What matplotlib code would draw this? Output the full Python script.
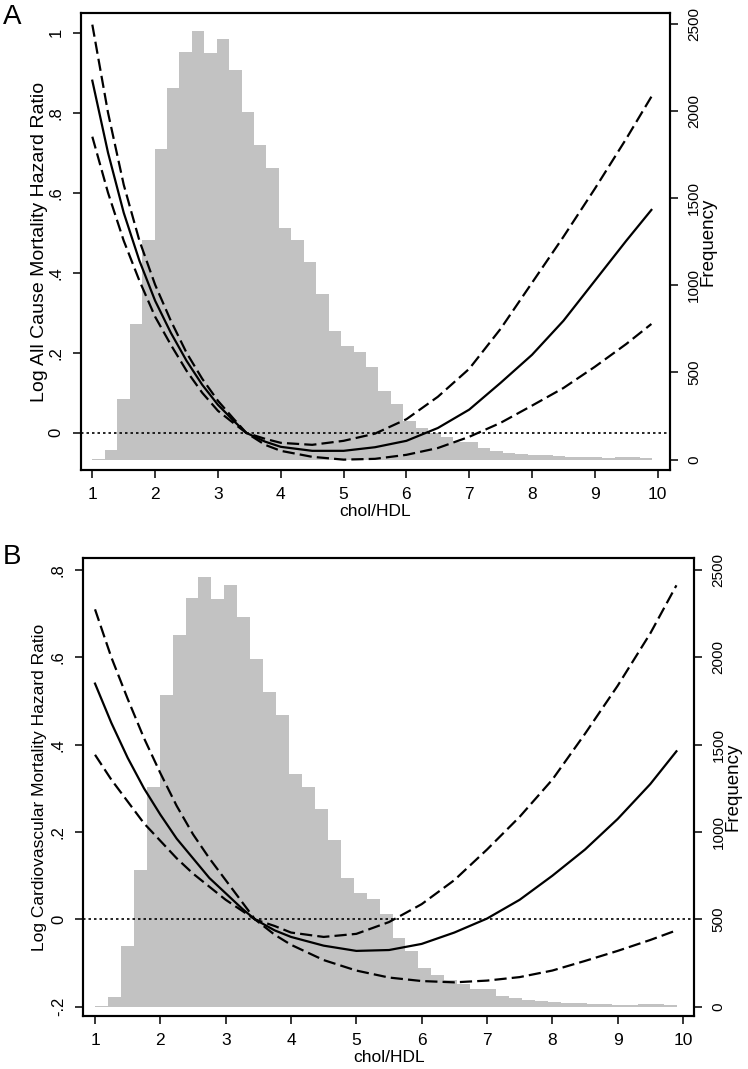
import numpy as np
import matplotlib
matplotlib.use("Agg")
import matplotlib.pyplot as plt

plt.rcParams['font.family'] = ['Liberation Sans', 'DejaVu Sans']

# histogram of chol/HDL (same cohort in both panels)
freq = [5, 57, 350, 780, 1259, 1783, 2130, 2338, 2459, 2332, 2413, 2232, 1990,
        1803, 1670, 1330, 1259, 1131, 952, 737, 652, 616, 532, 392, 321, 221,
        181, 151, 131, 100, 100, 64, 50, 40, 32, 28, 24, 20, 16, 14, 12, 10,
        16, 16, 8]
bin_start = 1.0
bin_width = 0.198

# curve sample points
x_curve = [1.0, 1.25, 1.5, 1.75, 2.0, 2.25, 2.5, 2.75, 3.0, 3.25, 3.45, 3.75, 4.0,
           4.5, 5.0, 5.5, 6.0, 6.5, 7.0, 7.5, 8.0, 8.5, 9.0, 9.5, 9.9]

# panel A: all cause mortality
a_est = [0.88, 0.70, 0.55, 0.43, 0.33, 0.25, 0.18, 0.12, 0.07, 0.03, 0.0, -0.022, -0.035,
         -0.045, -0.045, -0.036, -0.02, 0.012, 0.058, 0.125, 0.195, 0.28, 0.38, 0.48, 0.557]
a_hi = [1.02, 0.80, 0.62, 0.48, 0.37, 0.28, 0.20, 0.135, 0.08, 0.035, 0.0, -0.015, -0.025,
        -0.03, -0.02, -0.002, 0.034, 0.09, 0.16, 0.26, 0.375, 0.49, 0.61, 0.735, 0.84]
a_lo = [0.74, 0.60, 0.48, 0.38, 0.29, 0.22, 0.155, 0.10, 0.055, 0.024, 0.0, -0.03, -0.045,
        -0.06, -0.067, -0.065, -0.055, -0.038, -0.01, 0.025, 0.068, 0.112, 0.165, 0.222, 0.272]

# panel B: cardiovascular mortality
b_est = [0.54, 0.45, 0.37, 0.30, 0.24, 0.185, 0.14, 0.095, 0.06, 0.025, 0.0, -0.025, -0.04,
         -0.06, -0.072, -0.07, -0.056, -0.03, 0.002, 0.045, 0.10, 0.16, 0.23, 0.31, 0.385]
b_hi = [0.71, 0.60, 0.505, 0.415, 0.335, 0.26, 0.195, 0.14, 0.09, 0.04, 0.0, -0.015, -0.03,
        -0.04, -0.033, -0.006, 0.035, 0.09, 0.16, 0.235, 0.32, 0.425, 0.535, 0.655, 0.765]
b_lo = [0.377, 0.32, 0.27, 0.22, 0.18, 0.14, 0.105, 0.075, 0.045, 0.02, 0.0, -0.035, -0.058,
        -0.093, -0.117, -0.133, -0.141, -0.144, -0.14, -0.132, -0.117, -0.095, -0.072, -0.047, -0.025]

x_ticks = list(range(1, 11))
freq_ticks = [0, 500, 1000, 1500, 2000, 2500]
a_yticks = [0, 0.2, 0.4, 0.6, 0.8, 1.0]
a_ylabels = ['0', '.2', '.4', '.6', '.8', '1']
b_yticks = [-0.2, 0, 0.2, 0.4, 0.6, 0.8]
b_ylabels = ['-.2', '0', '.2', '.4', '.6', '.8']

HIST_COLOR = '#c2c2c2'
DASH = (0, (5.5, 2.3))


def draw_panel(fig, rect, est, hi, lo, ylim, freq_lim, xlim, yticks, ylabels,
               ylabel, ylabel_size, ylabel_pad, letter, letter_y):
    ax = fig.add_axes(rect)
    ax2 = ax.twinx()
    ax.set_zorder(ax2.get_zorder() + 1)
    ax.patch.set_visible(False)

    edges = bin_start + bin_width * np.arange(len(freq))
    ax2.bar(edges, freq, width=bin_width, align='edge', color=HIST_COLOR, linewidth=0)
    ax2.set_ylim(*freq_lim)
    ax2.set_yticks(freq_ticks)
    ax2.set_yticklabels([str(t) for t in freq_ticks], rotation=90, va='center', fontsize=11)
    ax2.set_ylabel('Frequency', fontsize=13.5, labelpad=-1)

    ax.axhline(0, color='black', lw=1.2, linestyle=(0, (1.5, 1.8)))
    ax.plot(x_curve, est, color='black', lw=1.6)
    ax.plot(x_curve, hi, color='black', lw=1.6, linestyle=DASH)
    ax.plot(x_curve, lo, color='black', lw=1.6, linestyle=DASH)

    ax.set_xlim(*xlim)
    ax.set_ylim(*ylim)
    ax.set_xticks(x_ticks)
    ax.set_xticklabels([str(t) for t in x_ticks], fontsize=12.5)
    ax.set_yticks(yticks)
    ax.set_yticklabels(ylabels, rotation=90, va='center', fontsize=12)
    ax.set_ylabel(ylabel, fontsize=ylabel_size, labelpad=ylabel_pad)
    ax.set_xlabel('chol/HDL', fontsize=12.5, labelpad=1.5)

    for a in (ax, ax2):
        a.tick_params(direction='out', length=6, width=1.1, pad=6.5)
        for s in a.spines.values():
            s.set_linewidth(1.5)

    fig.text(0.004, letter_y, letter, fontsize=20, ha='left', va='center')
    return ax


fig = plt.figure(figsize=(7.48, 10.69), dpi=100)

draw_panel(fig, [0.1083, 0.5603, 0.7874, 0.4275], a_est, a_hi, a_lo,
           (-0.093, 1.049), (-60, 2560), (0.82, 10.196), a_yticks, a_ylabels,
           'Log All Cause Mortality Hazard Ratio', 14, 0.5, 'A', 0.984)

draw_panel(fig, [0.1114, 0.0496, 0.8165, 0.4284], b_est, b_hi, b_lo,
           (-0.221, 0.8275), (-53, 2569), (0.821, 10.17), b_yticks, b_ylabels,
           'Log Cardiovascular Mortality Hazard Ratio', 12.5, 3, 'B', 0.479)

fig.savefig('out.png', dpi=100)
